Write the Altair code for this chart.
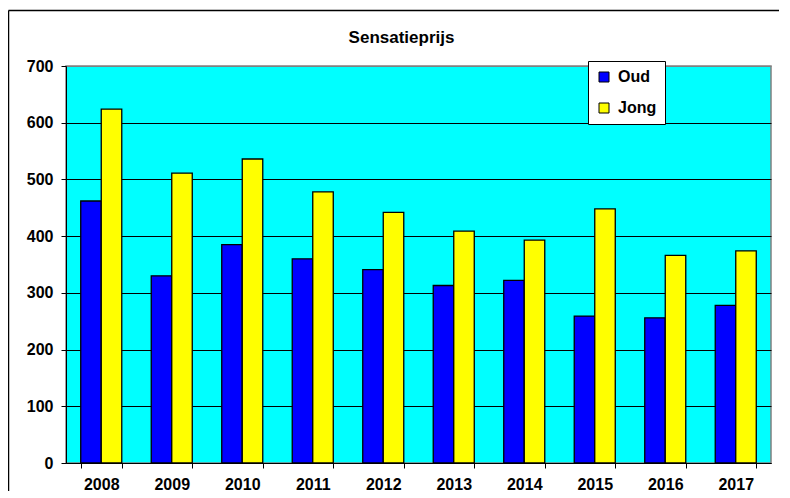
import altair as alt
import pandas as pd

years = ["2008", "2009", "2010", "2011", "2012", "2013", "2014", "2015", "2016", "2017"]
oud = [462, 330, 385, 360, 341, 313, 322, 259, 256, 278]
jong = [624, 511, 536, 478, 442, 409, 393, 448, 366, 374]
series = ["Oud", "Jong"]
colors = ["#0000FF", "#FFFF00"]
y_ticks = [0, 100, 200, 300, 400, 500, 600, 700]
title_text = "Sensatieprijs"

rows = []
for i, y in enumerate(years):
    rows.append({"jaar": y, "serie": "Oud", "waarde": oud[i]})
    rows.append({"jaar": y, "serie": "Jong", "waarde": jong[i]})
df = pd.DataFrame(rows)

FONT = "Liberation Sans"

bars = alt.Chart(df).mark_bar(stroke="black", strokeWidth=1.3, strokeOpacity=1).encode(
    x=alt.X(
        "jaar:N",
        sort=years,
        title=None,
        scale=alt.Scale(paddingInner=0.418, paddingOuter=0.209),
        axis=alt.Axis(
            labelAngle=0,
            labelFont=FONT,
            labelFontSize=16,
            labelFontWeight="bold",
            labelColor="black",
            labelPadding=8,
            tickBand="extent",
            tickSize=5,
            tickColor="black",
            domainColor="black",
            grid=False,
        ),
    ),
    xOffset=alt.XOffset("serie:N", sort=series),
    y=alt.Y(
        "waarde:Q",
        title=None,
        scale=alt.Scale(domain=[0, 700], nice=False),
        axis=alt.Axis(
            values=y_ticks,
            labelFont=FONT,
            labelFontSize=16,
            labelFontWeight="bold",
            labelColor="black",
            labelPadding=8,
            tickSize=5,
            tickColor="black",
            domainColor="black",
            grid=True,
            gridColor={"condition": {"test": "datum.value >= 700", "value": "#808080"}, "value": "black"},
            gridWidth=1,
            gridOpacity=1,
        ),
    ),
    color=alt.Color(
        "serie:N",
        sort=series,
        title=None,
        scale=alt.Scale(domain=series, range=colors),
        legend=alt.Legend(
            orient="none",
            legendX=522,
            legendY=-5,
            symbolType="square",
            symbolSize=100,
            symbolStrokeColor="black",
            symbolStrokeWidth=1,
            symbolOpacity=1,
            labelFont=FONT,
            labelFontSize=16,
            labelFontWeight="bold",
            labelColor="black",
            labelOffset=6,
            rowPadding=15,
            padding=8,
            fillColor="white",
            strokeColor="black",
        ),
    ),
)

frame_data = alt.Data(values=[{}])
frame_left = alt.Chart(frame_data).mark_rule(color="black", strokeWidth=1.5).encode(
    x=alt.value(-57.5),
    y=alt.value(-55.5),
    y2=alt.value(2000),
)
frame_top = alt.Chart(frame_data).mark_rule(color="black", strokeWidth=1.5).encode(
    y=alt.value(-55.5),
    x=alt.value(-57.5),
    x2=alt.value(2000),
)

title = alt.Chart(alt.Data(values=[{"t": title_text}])).mark_text(
    font=FONT,
    fontSize=17,
    fontWeight="bold",
    color="black",
    align="center",
    baseline="alphabetic",
).encode(
    text="t:N",
    x=alt.value(335.5),
    y=alt.value(-23.3),
)

chart = alt.layer(bars, frame_left, frame_top, title).properties(
    width=705,
    height=397,
    autosize=alt.AutoSizeParams(type="none"),
    padding={"left": 58, "top": 58, "right": 8, "bottom": 28},
    background="white",
).configure_view(
    fill="#00FFFF",
    stroke="#808080",
    strokeWidth=1.5,
)

chart.save("out.html", embed_options={"renderer": "svg", "actions": False})
